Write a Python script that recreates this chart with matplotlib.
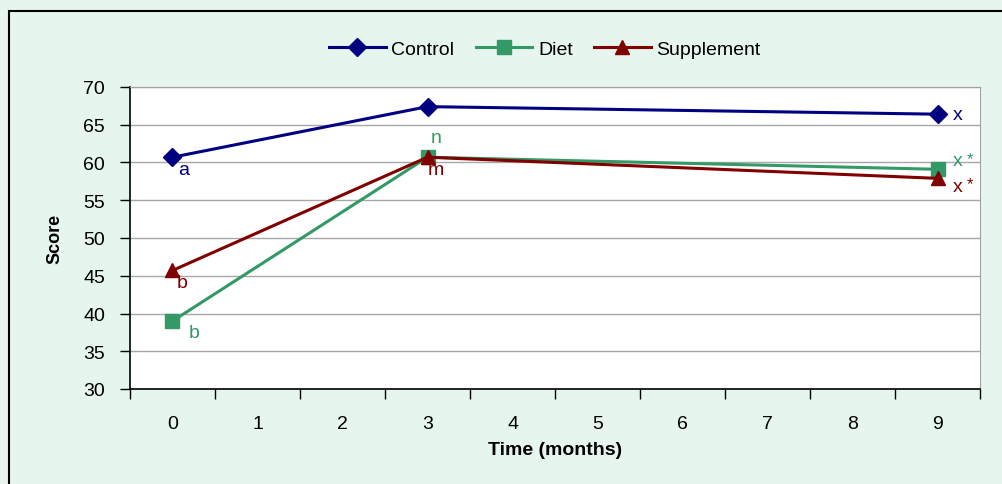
import matplotlib
matplotlib.use("Agg")
import matplotlib.pyplot as plt
from matplotlib.patches import Rectangle

plt.rcParams['font.family'] = ['Liberation Sans', 'DejaVu Sans']

categories = [0, 1, 2, 3, 4, 5, 6, 7, 8, 9]
time_points = [0, 3, 9]
control = [60.7, 67.4, 66.4]
diet = [39.0, 60.7, 59.1]
supplement = [45.7, 60.7, 57.9]

control_labels = ['a', '', 'x']
diet_labels = ['b', 'n', 'x*']
supp_labels = ['b', 'm', 'x*']

C_CTRL = '#000080'
C_DIET = '#339966'
C_SUPP = '#800000'
BG = '#E6F5EE'

fig = plt.figure(figsize=(10.03, 4.85), dpi=100)
fig.patch.set_facecolor(BG)
fig.patches.append(Rectangle((9/1003, -0.2), 1.2, 0.2 + 1 - 12/485, transform=fig.transFigure,
                             fill=False, edgecolor='black', linewidth=1.5, zorder=0))

ax = fig.add_axes([130/1003, 1 - 390/485, 850/1003, 302/485])
ax.set_facecolor('white')

ax.plot(time_points, control, color=C_CTRL, lw=2.2, marker='D', ms=9, label='Control', zorder=3)
ax.plot(time_points, diet, color=C_DIET, lw=2.2, marker='s', ms=10.5, label='Diet', zorder=4)
ax.plot(time_points, supplement, color=C_SUPP, lw=2.2, marker='^', ms=10, label='Supplement', zorder=5)

ax.set_xlim(-0.5, 9.5)
ax.set_ylim(30, 70)
ax.set_yticks(range(30, 71, 5))
ax.set_xticks([c - 0.5 for c in categories] + [9.5])
ax.set_xticklabels([])
ax.set_xticks(categories, minor=True)
ax.set_xticklabels([str(c) for c in categories], minor=True)
ax.tick_params(axis='x', which='minor', length=0, pad=19, labelsize=14)
ax.tick_params(axis='x', which='major', length=7, direction='out', width=1)
ax.tick_params(axis='y', length=7, direction='out', width=1, labelsize=14, pad=11)
ax.grid(axis='y', color='#A8A8A8', lw=1)
ax.set_axisbelow(True)
for s in ['top', 'right']:
    ax.spines[s].set_color('#A0A0A0')
for s in ['left', 'bottom']:
    ax.spines[s].set_color('black')
    ax.spines[s].set_linewidth(1.2)

ax.set_ylabel('Score', fontsize=13, fontweight='bold', labelpad=14)
ax.set_xlabel('Time (months)', fontsize=14, fontweight='bold', labelpad=6)

def annotate(xs, ys, labels, offsets, color):
    for x, y, lab, off in zip(xs, ys, labels, offsets):
        if not lab:
            continue
        if lab.endswith('*'):
            ax.annotate('x', (x, y), xytext=off, textcoords='offset points',
                        color=color, fontsize=14, ha='left', va='center')
            ax.annotate('*', (x, y), xytext=(off[0] + 10, off[1] + 2), textcoords='offset points',
                        color=color, fontsize=12, ha='left', va='center')
        else:
            ax.annotate(lab, (x, y), xytext=off, textcoords='offset points',
                        color=color, fontsize=14, ha='left', va='center')

annotate(time_points, control, control_labels, [(4, -9), (0, 0), (11, 0)], C_CTRL)
annotate(time_points, diet, diet_labels, [(12, -8), (2, 14), (11, 6)], C_DIET)
annotate(time_points, supplement, supp_labels, [(3, -9), (0, -9), (11, -6)], C_SUPP)

leg = fig.legend(loc='center', bbox_to_anchor=(545/1003, 1 - 50/485), ncol=3, frameon=False,
                 fontsize=14, handlelength=2.9, columnspacing=1.1, handletextpad=0.3)

fig.savefig('out.png', dpi=100, facecolor=BG)
